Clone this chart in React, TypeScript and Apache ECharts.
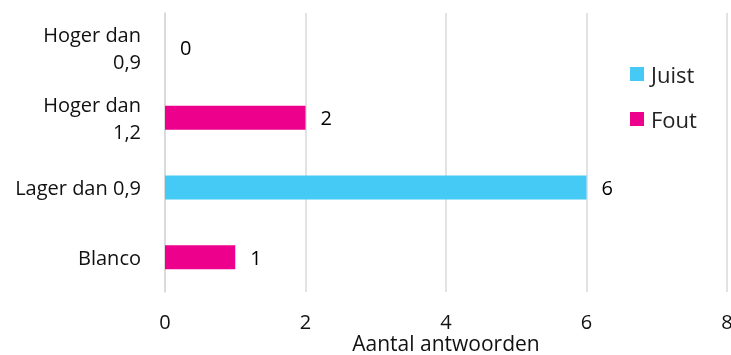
import React, { useEffect, useRef } from "react";
import * as echarts from "echarts";

const categories = ["Hoger dan\n0,9", "Hoger dan\n1,2", "Lager dan 0,9", "Blanco"];
const juistValues: (number | string)[] = ["-", "-", 6, "-"];
const foutValues: (number | string)[] = [0, 2, "-", 1];
const xTicks = [0, 2, 4, 6, 8];

const FONT = "Open Sans";

export default function App() {
  const ref = useRef<HTMLDivElement>(null);
  useEffect(() => {
    if (!ref.current) return;
    const chart = echarts.init(ref.current, undefined, { renderer: "svg" });
    const label = {
      show: true,
      position: "right" as const,
      distance: 15,
      color: "#000",
      fontFamily: FONT,
      fontSize: 20,
    };
    chart.setOption({
      animation: false,
      textStyle: { fontFamily: FONT },
      grid: {
        left: 165,
        right: 4,
        top: 13,
        bottom: 63,
        containLabel: false,
        outerBoundsMode: "none",
      },
      legend: {
        orient: "vertical",
        left: 625,
        top: 58,
        itemWidth: 14,
        itemHeight: 14,
        itemGap: 23,
        icon: "rect",
        textStyle: { fontFamily: FONT, fontSize: 22, color: "#222", padding: [0, 0, 0, 2] },
        data: ["Juist", "Fout"],
      },
      xAxis: {
        type: "value",
        min: xTicks[0],
        max: xTicks[xTicks.length - 1],
        interval: 2,
        name: "Aantal antwoorden",
        nameLocation: "middle",
        nameGap: 42,
        nameMoveOverlap: false,
        nameTextStyle: { fontFamily: FONT, fontSize: 21, lineHeight: 18, color: "#111" },
        axisLine: { show: false },
        axisTick: { show: false },
        axisLabel: { fontFamily: FONT, fontSize: 20, lineHeight: 17, color: "#111", margin: 21 },
        splitLine: { show: true, lineStyle: { color: "#d9d9d9", width: 1.5 } },
      },
      yAxis: {
        type: "category",
        inverse: true,
        data: categories,
        axisLine: { show: true, lineStyle: { color: "#d9d9d9", width: 1.5 } },
        axisTick: { show: false },
        axisLabel: {
          fontFamily: FONT,
          fontSize: 20,
          color: "#111",
          margin: 24,
          lineHeight: 27,
          align: "right",
        },
      },
      series: [
        {
          name: "Juist",
          type: "bar",
          stack: "a",
          barWidth: 24,
          data: juistValues,
          itemStyle: { color: "#45C9F5" },
          label,
        },
        {
          name: "Fout",
          type: "bar",
          stack: "a",
          barWidth: 24,
          data: foutValues,
          itemStyle: { color: "#EC008C" },
          label,
        },
      ],
    });
    return () => chart.dispose();
  }, []);
  return (
    <div
      ref={ref}
      style={{ position: "fixed", left: 0, top: 0, width: 731, height: 355 }}
    />
  );
}
